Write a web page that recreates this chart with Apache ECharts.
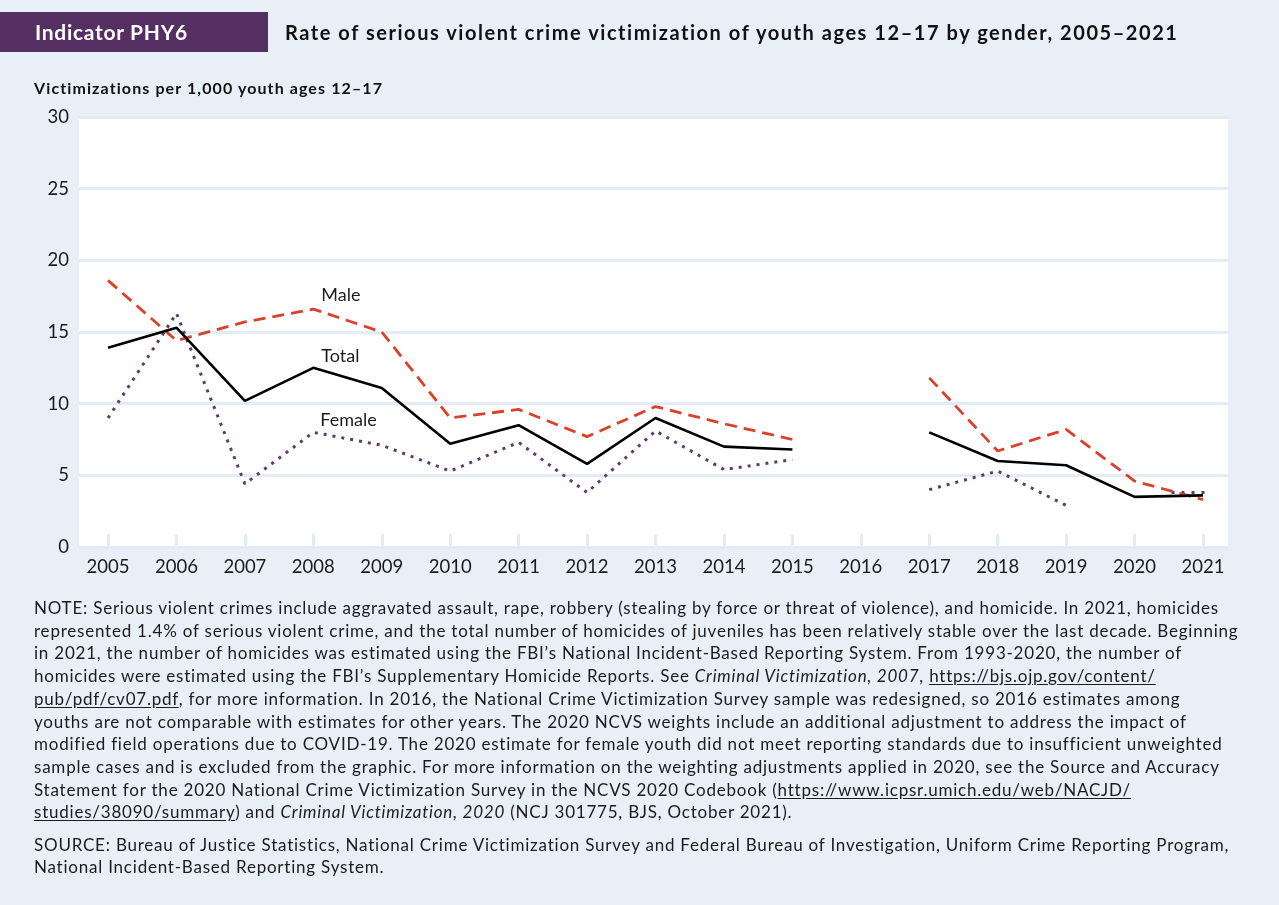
<!DOCTYPE html>
<html>
<head>
<meta charset="utf-8">
<script src="https://cdn.jsdelivr.net/npm/echarts@6/dist/echarts.min.js"></script>
<style>
  html, body { margin:0; padding:0; background:#e8eff7; width:1279px; height:905px; overflow:hidden; font-family: Lato, "Open Sans", sans-serif; color:#1b1b1b; }
  #chart { position:absolute; left:0; top:0; width:1279px; height:905px; }
  .hdrbox { position:absolute; left:0; top:12px; width:268px; height:40px; background:#552f62; }
  .hdrtxt { position:absolute; left:35px; top:12px; height:40px; line-height:40px; color:#fff; font-weight:700; font-size:21px; letter-spacing:0.7px; white-space:nowrap; }
  .title { position:absolute; left:285px; top:12px; height:40px; line-height:40px; color:#111; font-weight:700; font-size:20px; letter-spacing:1.55px; white-space:nowrap; }
  .ytitle { position:absolute; left:34px; top:78px; line-height:20px; font-weight:700; font-size:16px; letter-spacing:1.1px; white-space:nowrap; color:#111; }
  .notes { position:absolute; left:34px; top:597px; font-size:17px; line-height:22.7px; letter-spacing:0.78px; white-space:nowrap; color:#1b1b1b; }
  .source { position:absolute; left:34px; top:834px; font-size:17px; line-height:22px; letter-spacing:0.78px; white-space:nowrap; color:#1b1b1b; }
  u { text-underline-offset: 2px; }
</style>
</head>
<body>
<div id="chart"></div>
<div class="hdrbox"></div>
<div class="hdrtxt">Indicator PHY6</div>
<div class="title">Rate of serious violent crime victimization of youth ages 12–17 by gender, 2005–2021</div>
<div class="ytitle">Victimizations per 1,000 youth ages 12–17</div>
<div class="notes">
NOTE: Serious violent crimes include aggravated assault, rape, robbery (stealing by force or threat of violence), and homicide. In 2021, homicides<br>
represented 1.4% of serious violent crime, and the total number of homicides of juveniles has been relatively stable over the last decade. Beginning<br>
in 2021, the number of homicides was estimated using the FBI’s National Incident-Based Reporting System. From 1993-2020, the number of<br>
homicides were estimated using the FBI’s Supplementary Homicide Reports. See <i>Criminal Victimization, 2007</i>, <u>https://bjs.ojp.gov/content/</u><br>
<u>pub/pdf/cv07.pdf</u>, for more information. In 2016, the National Crime Victimization Survey sample was redesigned, so 2016 estimates among<br>
youths are not comparable with estimates for other years. The 2020 NCVS weights include an additional adjustment to address the impact of<br>
modified field operations due to COVID-19. The 2020 estimate for female youth did not meet reporting standards due to insufficient unweighted<br>
sample cases and is excluded from the graphic. For more information on the weighting adjustments applied in 2020, see the Source and Accuracy<br>
Statement for the 2020 National Crime Victimization Survey in the NCVS 2020 Codebook (<u>https://www.icpsr.umich.edu/web/NACJD/</u><br>
<u>studies/38090/summary</u>) and <i>Criminal Victimization, 2020</i> (NCJ 301775, BJS, October 2021).
</div>
<div class="source">
SOURCE: Bureau of Justice Statistics, National Crime Victimization Survey and Federal Bureau of Investigation, Uniform Crime Reporting Program,<br>
National Incident-Based Reporting System.
</div>
<script>
// ---- data ----
const years  = [2005, 2006, 2007, 2008, 2009, 2010, 2011, 2012, 2013, 2014, 2015, 2016, 2017, 2018, 2019, 2020, 2021];
const total  = [13.9, 15.3, 10.2, 12.5, 11.1, 7.2, 8.5, 5.8, 9.0, 7.0, 6.8, null, 8.0, 6.0, 5.7, 3.5, 3.6];
const male   = [18.6, 14.4, 15.7, 16.6, 15.0, 9.0, 9.6, 7.7, 9.8, 8.6, 7.5, null, 11.8, 6.7, 8.2, 4.6, 3.3];
const female = [9.0, 16.3, 4.4, 8.0, 7.1, 5.3, 7.3, 3.8, 8.1, 5.4, 6.1, null, 4.0, 5.3, 2.9, null, 3.8];
const yTicks = [0, 5, 10, 15, 20, 25, 30];
const seriesNames = ['Male', 'Total', 'Female'];
const labelIdx = 3; // 2008, where the series names are written

// ---- chart ----
const chart = echarts.init(document.getElementById('chart'), null, { renderer: 'canvas' });
const FONT = 'Lato, "Open Sans", sans-serif';
const GRIDC = '#e3ebf4';

function pairs(vals) { return years.map((y, i) => [y, vals[i]]); }

function nameMark(name, vals, offset) {
  return {
    symbol: 'circle', symbolSize: 0.01, silent: true,
    itemStyle: { color: 'transparent' },
    label: { show: true, position: 'right', distance: 5, offset: offset, formatter: name,
             color: '#1b1b1b', fontSize: 18, fontFamily: FONT },
    data: [{ coord: [years[labelIdx], vals[labelIdx]] }]
  };
}

const femaleData = pairs(female).map((p, i) => {
  if (i === years.length - 1) {
    return { value: p, symbol: 'path://M0,0h3v3h-3zM10,0h3v3h-3zM20,0h3v3h-3zM30,0h3v3h-3z',
             symbolSize: [33, 3], symbolOffset: [-15, 0], symbolKeepAspect: false,
             itemStyle: { color: '#5b3b72' } };
  }
  return p;
});

chart.setOption({
  animation: false,
  backgroundColor: 'transparent',
  grid: { left: 79, right: 51, top: 117, bottom: 358, show: true, backgroundColor: '#ffffff', borderWidth: 0 },
  xAxis: {
    type: 'value', min: 2004.576, max: 2021.365,
    axisLine: { show: false },
    splitLine: { show: false },
    axisTick: { show: true, inside: true, length: 13, customValues: years, lineStyle: { color: GRIDC, width: 3 } },
    axisLabel: { customValues: years, color: '#1b1b1b', fontSize: 18.5, fontFamily: FONT, margin: 11, formatter: v => String(v) }
  },
  yAxis: {
    type: 'value', min: yTicks[0], max: yTicks[yTicks.length - 1], interval: 5,
    axisLine: { show: false }, axisTick: { show: false },
    splitLine: { show: true, lineStyle: { color: GRIDC, width: 3 } },
    axisLabel: { color: '#1b1b1b', fontSize: 18.5, fontFamily: FONT, margin: 10 }
  },
  series: [
    { name: seriesNames[0], type: 'line', data: pairs(male), symbol: 'none', connectNulls: false,
      lineStyle: { color: '#d9412b', width: 2.8, type: [12, 7] }, z: 3,
      markPoint: nameMark(seriesNames[0], male, [3, -14]) },
    { name: seriesNames[1], type: 'line', data: pairs(total), symbol: 'none', connectNulls: false,
      lineStyle: { color: '#000000', width: 2.6 }, z: 4,
      markPoint: nameMark(seriesNames[1], total, [3, -12]) },
    { name: seriesNames[2], type: 'line', data: femaleData, symbol: 'none', showSymbol: true, connectNulls: false,
      lineStyle: { color: '#5b3b72', width: 3, type: [3, 6] }, z: 2,
      markPoint: nameMark(seriesNames[2], female, [2, -12]) }
  ]
});
</script>
</body>
</html>
